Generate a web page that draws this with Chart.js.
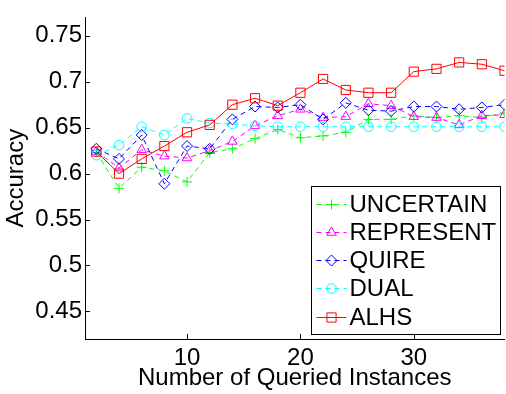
<!DOCTYPE html>
<html><head><meta charset="utf-8">
<script src="https://cdn.jsdelivr.net/npm/chart.js@4/dist/chart.umd.min.js"></script>
<style>
html,body{margin:0;padding:0;overflow:hidden;background:#fff;}
#wrap{position:relative;width:512px;height:394px;}
</style></head><body>
<div id="wrap"><canvas id="c"></canvas></div>
<script>
const queried   = [2,4,6,8,10,12,14,16,18,20,22,24,26,28,30,32,34,36,38];
const uncertain = [0.623,0.584,0.607,0.603,0.591,0.623,0.627,0.638,0.648,0.639,0.641,0.645,0.659,0.659,0.663,0.661,0.663,0.661,0.666];
const represent = [0.624,0.606,0.626,0.619,0.617,0.625,0.635,0.652,0.663,0.670,0.661,0.662,0.676,0.674,0.662,0.661,0.653,0.663,0.664];
const quire     = [0.627,0.616,0.642,0.589,0.630,0.627,0.659,0.673,0.672,0.675,0.659,0.677,0.669,0.668,0.673,0.673,0.670,0.672,0.675];
const dual      = [0.620,0.631,0.651,0.642,0.660,0.655,0.654,0.652,0.651,0.651,0.651,0.651,0.651,0.651,0.651,0.651,0.651,0.651,0.651];
const alhs      = [0.624,0.600,0.616,0.630,0.645,0.653,0.675,0.682,0.674,0.688,0.703,0.691,0.688,0.688,0.711,0.714,0.721,0.719,0.712];
const seriesNames = ['UNCERTAIN','REPRESENT','QUIRE','DUAL','ALHS'];
const yTicks = [0.45,0.5,0.55,0.6,0.65,0.7,0.75];
const xTicks = [10,20,30];

const FONT = '"Liberation Sans", Arial, Helvetica, sans-serif';
Chart.defaults.font.family = FONT;
Chart.defaults.font.size = 24;
Chart.defaults.color = '#000';

const seriesValues = [uncertain, represent, quire, dual, alhs];
const styles = [
  {color:'#00ff00', point:'cross',    r:5,   dash:[5,4]},
  {color:'#ff00ff', point:'triangle', r:5.5, dash:[5,4]},
  {color:'#0000ff', point:'rectRot',  r:5.5, dash:[5,4]},
  {color:'#00ffff', point:'circle',   r:4.8, dash:[5,4]},
  {color:'#ff0000', point:'rect',     r:6.5, dash:[]}
];

const datasets = seriesNames.map((name,i)=>({
  label: name,
  data: queried.map((q,k)=>({x:q, y:seriesValues[i][k]})),
  borderColor: styles[i].color,
  borderWidth: 1,
  borderDash: styles[i].dash,
  pointStyle: styles[i].point,
  pointRadius: styles[i].r,
  pointBorderColor: styles[i].color,
  pointBackgroundColor: 'rgba(0,0,0,0)',
  pointBorderWidth: 1,
  tension: 0,
  fill: false,
  order: seriesNames.length - i
}));

const tickMarks = {
  id:'tickMarks',
  afterDatasetsDraw(chart){
    const {ctx, chartArea:a, scales:{x,y}} = chart;
    ctx.save(); ctx.strokeStyle='#000'; ctx.lineWidth=1; ctx.setLineDash([]);
    ctx.beginPath();
    yTicks.forEach(v=>{const p=Math.round(y.getPixelForValue(v))+0.5; ctx.moveTo(a.left,p); ctx.lineTo(a.left+5,p);});
    xTicks.forEach(v=>{const p=Math.round(x.getPixelForValue(v))+0.5; ctx.moveTo(p,a.bottom); ctx.lineTo(p,a.bottom-5);});
    ctx.stroke(); ctx.restore();
  }
};

const boxLegend = {
  id:'boxLegend',
  afterDraw(chart){
    const {ctx, chartArea:a} = chart;
    const bw=189, bh=148;
    const bx=Math.round(a.right-5-bw)+0.5, by=Math.round(a.bottom-5-bh)+0.5;
    ctx.save();
    ctx.fillStyle='#fff'; ctx.fillRect(bx,by,bw,bh);
    ctx.strokeStyle='#000'; ctx.lineWidth=1; ctx.setLineDash([]); ctx.strokeRect(bx,by,bw,bh);
    chart.data.datasets.forEach((ds,i)=>{
      const y = Math.round(by + 17 + i*28.3)+0.5;
      ctx.strokeStyle=ds.borderColor; ctx.lineWidth=1; ctx.setLineDash(ds.borderDash);
      ctx.beginPath(); ctx.moveTo(bx+5,y); ctx.lineTo(bx+35,y); ctx.stroke();
      ctx.setLineDash([]);
      ctx.fillStyle='rgba(0,0,0,0)';
      Chart.helpers.drawPoint(ctx,{pointStyle:ds.pointStyle,radius:ds.pointRadius,borderWidth:1,rotation:0},bx+20,y);
      ctx.fillStyle='#000'; ctx.font='24px '+FONT; ctx.textBaseline='middle'; ctx.textAlign='left';
      ctx.fillText(ds.label, bx+38, y+1);
    });
    ctx.restore();
  }
};

new Chart(document.getElementById('c'), {
  type:'line',
  data:{datasets},
  options:{
    responsive:true, maintainAspectRatio:false, animation:false, devicePixelRatio:1,
    events:[],
    layout:{padding:{left:0,top:3,right:3,bottom:0}},
    plugins:{legend:{display:false}, tooltip:{enabled:false}},
    scales:{
      x:{
        type:'linear', min:1, max:38,
        grid:{display:false, drawTicks:false},
        border:{display:true, color:'#000', width:1},
        ticks:{autoSkip:false, padding:5, font:{size:24, lineHeight:1.2}, maxRotation:0},
        afterBuildTicks:(ax)=>{ax.ticks = xTicks.map(v=>({value:v}));},
        afterFit:(ax)=>{ax.height = 55;},
        title:{display:true, text:'Number of Queried Instances', font:{size:24, lineHeight:1.2}, padding:{top:0,bottom:1}}
      },
      y:{
        type:'linear', min:0.42, max:0.77,
        grid:{display:false, drawTicks:false},
        border:{display:true, color:'#000', width:1},
        ticks:{autoSkip:false, padding:3, font:{size:24, lineHeight:1.2},
          callback:(v)=>String(+Number(v).toFixed(2))},
        afterBuildTicks:(ax)=>{ax.ticks = yTicks.map(v=>({value:v}));},
        afterFit:(ax)=>{ax.width = 85;},
        title:{display:true, text:'Accuracy', font:{size:24, lineHeight:1.2}, padding:{top:2,bottom:0}}
      }
    }
  },
  plugins:[tickMarks, boxLegend]
});
</script>
</body></html>
